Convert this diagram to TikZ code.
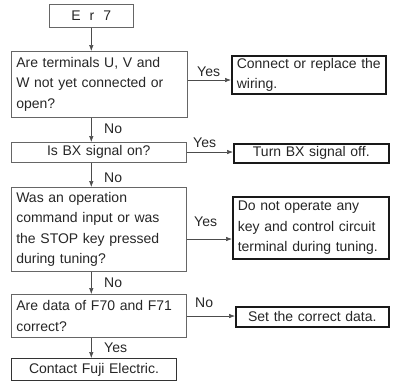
\documentclass[tikz,border=0pt]{standalone}
\usepackage{fontspec}
\setmainfont{Liberation Sans}
\usetikzlibrary{arrows.meta}
\newcommand\fs{\fontsize{14}{20.5}\selectfont}
\tikzset{
  qbox/.style={draw=black!60, line width=0.6pt, anchor=north west, inner xsep=5pt, inner ysep=0pt, font=\fs, text=black!85},
  abox/.style={draw=black!90, line width=1.6pt, anchor=north west, inner xsep=5pt, inner ysep=0pt, font=\fs, text=black!85},
  arr/.style={draw=black!70, line width=0.6pt, -{Latex[length=6pt,width=4.5pt]}},
  lbl/.style={font=\fs, inner sep=0pt, anchor=base west, text=black!85}
}
\begin{document}
\begin{tikzpicture}[x=1pt,y=-1pt]
\useasboundingbox (0,0) rectangle (393,384);
% main column
\node[qbox, minimum width=84, minimum height=23] (e) at (49,4) {E\hspace{9pt}r\hspace{9pt}7};
\node[qbox, minimum width=176, minimum height=66, text width=166, align=left] (q1) at (11,51) {Are terminals U, V and\\W not yet connected or\\open?};
\node[qbox, minimum width=175, minimum height=20, text width=165, align=center] (q2) at (11,142) {Is BX signal on?};
\node[qbox, minimum width=175, minimum height=84, text width=165, align=left] (q3) at (11,187) {Was an operation\\command input or was\\the STOP key pressed\\during tuning?};
\node[qbox, minimum width=175, minimum height=43, text width=165, align=left] (q4) at (11,294) {Are data of F70 and F71\\correct?};
\node[qbox, line width=1pt, draw=black!80, minimum width=165, minimum height=22, text width=155, align=center] (f) at (11,358) {Contact Fuji Electric.};
% action boxes
\node[abox, minimum width=154, minimum height=38, text width=144, align=left] (a1) at (231,55) {Connect or replace the\\wiring.};
\node[abox, minimum width=155, minimum height=19, text width=145, align=center] (a2) at (233,143) {Turn BX signal off.};
\node[abox, minimum width=156, minimum height=62, text width=146, align=left] (a3) at (232,196) {Do not operate any\\key and control circuit\\terminal during tuning.};
\node[abox, minimum width=153, minimum height=20, text width=143, align=center] (a4) at (235,306) {Set the correct data.};
% helper coordinates
\coordinate (c1) at (0,80);
\coordinate (c2) at (0,152);
\coordinate (c3) at (0,239);
\coordinate (c4) at (0,316);
% vertical arrows
\draw[arr] (e.south) -- (e.south |- q1.north);
\draw[arr] (e.south |- q1.south) -- (e.south |- q2.north);
\draw[arr] (e.south |- q2.south) -- (e.south |- q3.north);
\draw[arr] (e.south |- q3.south) -- (e.south |- q4.north);
\draw[arr] (e.south |- q4.south) -- (e.south |- f.north);
% horizontal arrows
\draw[arr] (q1.east |- c1) -- (a1.west |- c1);
\draw[arr] (q2.east |- c2) -- (a2.west |- c2);
\draw[arr] (q3.east |- c3) -- (a3.west |- c3);
\draw[arr] (q4.east |- c4) -- (a4.west |- c4);
% labels
\node[lbl] (l1) at (197,76) {Yes};
\node[lbl] (l2) at (193,147) {Yes};
\node[lbl] (l3) at (194,226) {Yes};
\node[lbl] (l4) at (195,307) {No};
\node[lbl] (l5) at (104,133) {No};
\node[lbl] (l6) at (104,182) {No};
\node[lbl] (l7) at (104,287) {No};
\node[lbl] (l8) at (104,352) {Yes};
\end{tikzpicture}
\end{document}
